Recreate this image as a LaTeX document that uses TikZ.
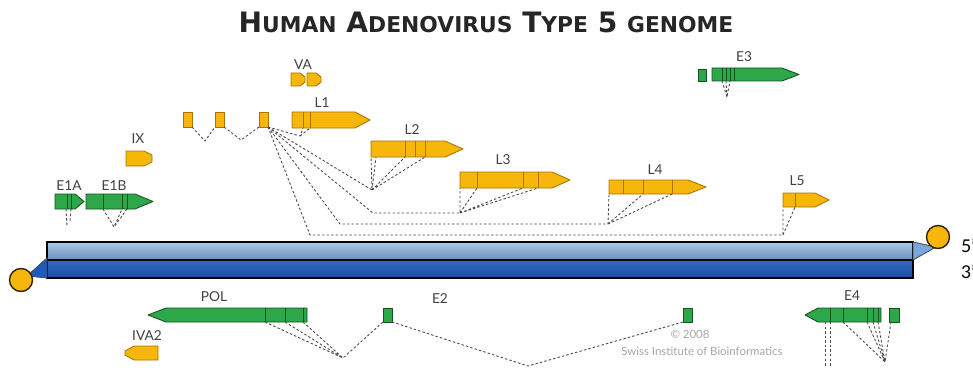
\documentclass[tikz,border=0pt]{standalone}
\usepackage{fontspec}
\setmainfont{Lato}
\newfontfamily\titlefont{DejaVu Sans}
\usepackage{xcolor}
\usepackage{tikz}
\usetikzlibrary{calc}
\definecolor{geneyellow}{HTML}{F6B60A}
\definecolor{yellowedge}{HTML}{A87400}
\definecolor{genegreen}{HTML}{2EA64A}
\definecolor{greenedge}{HTML}{14521F}
\definecolor{strandlight}{HTML}{79A7DB}
\definecolor{stranddark}{HTML}{1C5BBD}
\definecolor{splicegray}{HTML}{4A4A4A}
\tikzset{
  yellowgene/.style={fill=geneyellow, draw=yellowedge, line width=0.5pt, line join=round},
  greengene/.style={fill=genegreen, draw=greenedge, line width=0.5pt, line join=round},
  splice/.style={draw=splicegray, line width=0.5pt, dash pattern=on 1.4pt off 1.2pt},
  genelabel/.style={font=\fontsize{7.8}{8}\selectfont, text=black!75, inner sep=0pt},
  endcap/.style={fill=geneyellow, draw=black!70!yellowedge, line width=0.8pt},
}
\newcommand{\tcaps}[1]{{\fontsize{12.4}{14}\selectfont #1}}

\begin{document}
\begin{tikzpicture}[x=0.02cm, y=-0.02cm]
    \useasboundingbox (0,0) rectangle (973,368);
    % Title
    \node[text=black!85] (title) at (486,22) {\titlefont\bfseries\fontsize{16}{18}\selectfont H\tcaps{UMAN} A\tcaps{DENOVIRUS} T\tcaps{YPE} 5 \tcaps{GENOME}};

    % Genome strands
    \draw[top color=strandlight!60!white, bottom color=strandlight!85!black, draw=black, line width=0.8pt]
        (47,242) rectangle (913,260);
    \draw[top color=stranddark!90!white, bottom color=stranddark!85!black, draw=black, line width=0.8pt]
        (47,260) rectangle (913,278);
    \draw[fill=strandlight, draw=black!70, line width=0.5pt] (913,242) -- (936,247) -- (913,260) -- cycle;
    \draw[fill=stranddark, draw=black!70, line width=0.5pt] (47,258) -- (27,276) -- (47,278) -- cycle;
    \draw[endcap] (938,237) circle (11.5);
    \draw[endcap] (21,280) circle (11.5);
    \node[anchor=west, font=\fontsize{10}{12}\selectfont] (five) at (955,246) {5'};
    \node[anchor=west, font=\fontsize{10}{12}\selectfont] (three) at (955,272) {3'};

    % Late transcripts (yellow)
    \draw[yellowgene] (291,73) -- (300,73) -- (305,77) -- (305,82) -- (300,86) -- (291,86) -- cycle;
    \draw[yellowgene] (307,73) -- (316,73) -- (321,77) -- (321,82) -- (316,86) -- (307,86) -- cycle;
    \node[genelabel] (va) at (303,65) {VA};
    \draw[yellowgene] (183,112) rectangle (192,127);
    \draw[yellowgene] (215,112) rectangle (224,127);
    \draw[yellowgene] (259,112) rectangle (268,127);
    \draw[yellowgene] (292,112) -- (355,112) -- (370,120) -- (355,128) -- (292,128) -- cycle;
    \draw[yellowedge] (303,112) -- (303,128) (310,112) -- (310,128);
    \node[genelabel] (l1) at (322,103) {L1};
    \draw[yellowgene] (371,141) -- (445,141) -- (463,149) -- (445,157) -- (371,157) -- cycle;
    \draw[yellowedge] (405,141) -- (405,157) (415,141) -- (415,157) (425,141) -- (425,157);
    \node[genelabel] (l2) at (412,130) {L2};
    \draw[yellowgene] (460,172) -- (552,172) -- (570,180) -- (552,188) -- (460,188) -- cycle;
    \draw[yellowedge] (477,172) -- (477,188) (523,172) -- (523,188) (538,172) -- (538,188);
    \node[genelabel] (l3) at (503,160) {L3};
    \draw[yellowgene] (609,180) -- (688,180) -- (706,187) -- (688,194) -- (609,194) -- cycle;
    \draw[yellowedge] (623,180) -- (623,194) (643,180) -- (643,194) (672,180) -- (672,194);
    \node[genelabel] (l4) at (655,170) {L4};
    \draw[yellowgene] (783,193) -- (815,193) -- (829,200) -- (815,207) -- (783,207) -- cycle;
    \draw[yellowedge] (795,193) -- (795,207);
    \node[genelabel] (l5) at (797,181) {L5};
    \draw[yellowgene] (126,151) -- (144,151) -- (152,155) -- (152,162) -- (144,166) -- (126,166) -- cycle;
    \node[genelabel] (ix) at (138,139) {IX};
    \draw[yellowgene] (158,346) -- (134,346) -- (125,351) -- (125,355) -- (134,360) -- (158,360) -- cycle;
    \node[genelabel] (iva2) at (147,336) {IVA2};

    % Early transcripts (green)
    \draw[greengene] (55,194) -- (75,194) -- (84,201.5) -- (75,209) -- (55,209) -- cycle;
    \draw[greenedge] (67,194) -- (67,209) (71,194) -- (71,209);
    \node[genelabel] (e1a) at (69,186) {E1A};
    \draw[greengene] (86,194) -- (135,194) -- (153,201.5) -- (135,209) -- (86,209) -- cycle;
    \draw[greenedge] (103,194) -- (103,209) (122,194) -- (122,209) (127,194) -- (127,209);
    \node[genelabel] (e1b) at (114,186) {E1B};
    \draw[greengene] (698,69) rectangle (706,81);
    \draw[greengene] (712,68) -- (782,68) -- (799,74.5) -- (782,81) -- (712,81) -- cycle;
    \draw[greenedge] (722,68) -- (722,81) (726,68) -- (726,81) (730,68) -- (730,81) (734,68) -- (734,81);
    \node[genelabel] (e3) at (744,57) {E3};
    \draw[greengene] (307,308) -- (166,308) -- (148,315) -- (166,322) -- (307,322) -- cycle;
    \draw[greenedge] (265,308) -- (265,322) (285,308) -- (285,322) (303,308) -- (303,322);
    \node[genelabel] (pol) at (214,297) {POL};
    \draw[greengene] (383,308) rectangle (392,322);
    \draw[greengene] (683,308) rectangle (692,322);
    \node[genelabel] (e2) at (440,299) {E2};
    \draw[greengene] (881,308) -- (818,308) -- (805,315) -- (818,322) -- (881,322) -- cycle;
    \draw[greenedge] (830,308) -- (830,322) (843,308) -- (843,322) (867,308) -- (867,322)
        (873,308) -- (873,322) (878,308) -- (878,322);
    \draw[greengene] (889,308) rectangle (899,322);
    \node[genelabel] (e4) at (852,296) {E4};

    % Splicing
    \coordinate (hub) at (268,127);
    \draw[splice] (192,127) -- (205,141) -- (215,127);
    \draw[splice] (224,127) -- (241,140) -- (259,127);
    \draw[splice] (hub) -- (300,136) -- (303,128) (300,136) -- (310,128);
    \draw[splice] (hub) -- (372,190) -- (371,157) (372,190) -- (376,157)
        (372,190) -- (405,157) (372,190) -- (425,157);
    \draw[splice] (hub) -- (373,213) -- (460,213) -- (460,188) (460,213) -- (477,188)
        (460,213) -- (523,188) (460,213) -- (538,188);
    \draw[splice] (hub) -- (340,224) -- (608,224) -- (609,194) (608,224) -- (643,194)
        (608,224) -- (672,194);
    \draw[splice] (hub) -- (310,235) -- (783,235) -- (783,207) (783,235) -- (795,207);
    \draw[splice] (722,81) -- (727,97) -- (730,81) (726,81) -- (727,97);
    \draw[splice] (66,209) -- (67,226) (71,209) -- (70,222);
    \draw[splice] (103,209) -- (114,227) -- (122,209) (127,209) -- (114,227);
    \draw[splice] (265,322) -- (343,358) -- (383,322) (285,322) -- (343,358) (303,322) -- (343,358);
    \draw[splice] (392,322) -- (528,366) -- (683,322);
    \draw[splice] (825,322) -- (825,368) (830,322) -- (830,368);
    \draw[splice] (843,322) -- (885,362) (867,322) -- (885,362) (873,322) -- (885,362)
        (878,322) -- (885,362) (891,322) -- (885,362);

    % Credit
    \node[font=\fontsize{6.5}{7}\selectfont, text=black!35] (year) at (690,334) {© 2008};
    \node[font=\fontsize{6.5}{7}\selectfont, text=black!35] (sib) at (702,351) {Swiss Institute of Bioinformatics};
\end{tikzpicture}
\end{document}
